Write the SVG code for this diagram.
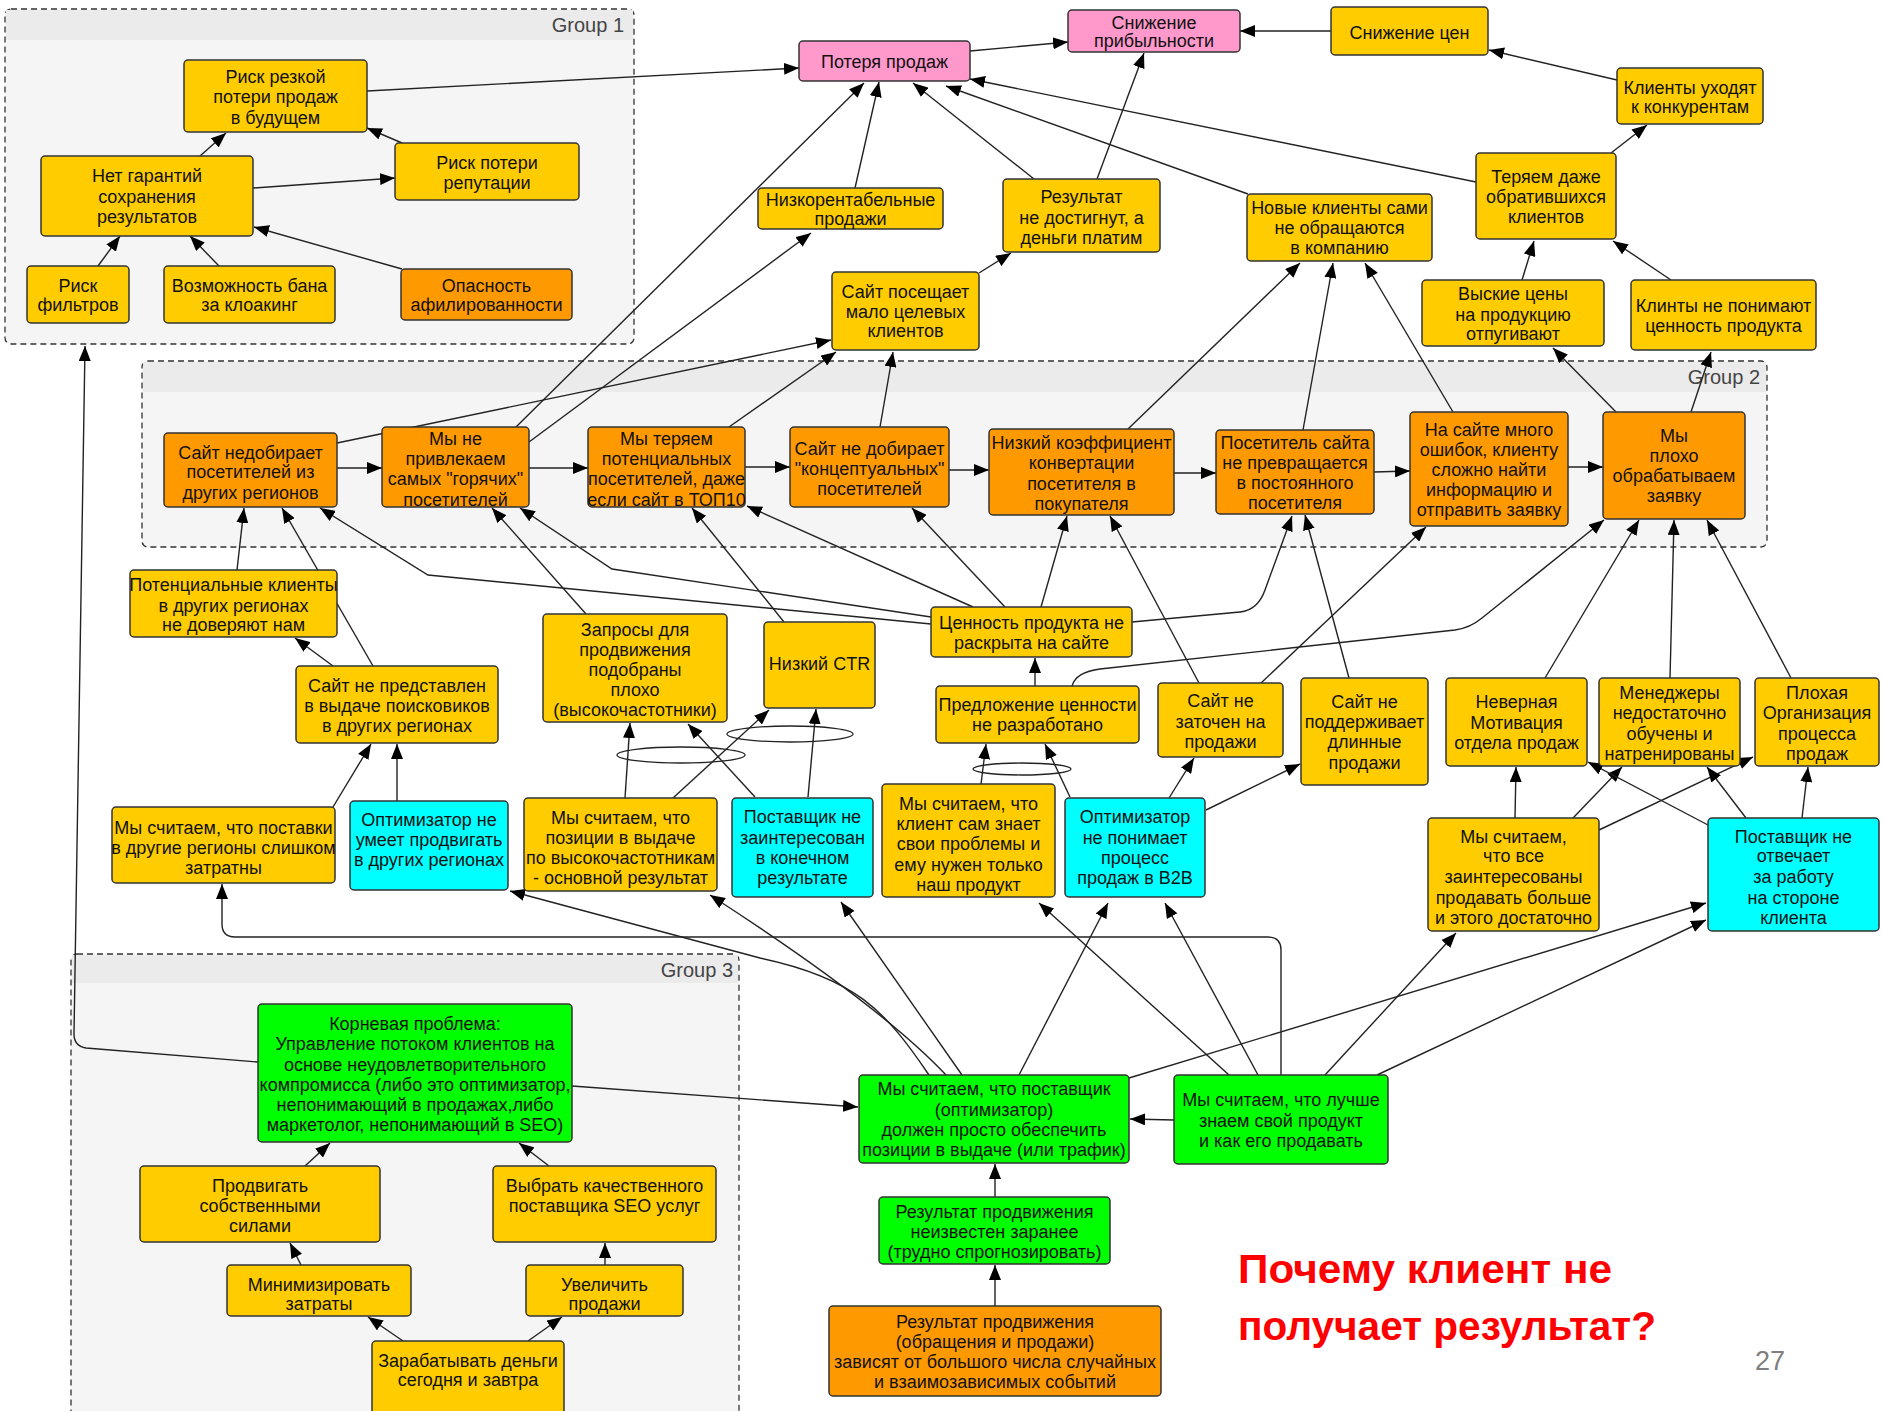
<svg xmlns="http://www.w3.org/2000/svg" width="1883" height="1411" viewBox="0 0 1883 1411">
<style>
.grp{fill:#F5F5F5;stroke:#333;stroke-width:1.3;stroke-dasharray:6,4}
.hdr{fill:#EBEBEB}
.gl{font-family:"Liberation Sans",Arial,sans-serif;font-size:20px;fill:#444;text-anchor:end}
.n rect{stroke:#333;stroke-width:1.5}
.y rect{fill:#FFCC00}.o rect{fill:#FF9900}.p rect{fill:#FF99CC}.c rect{fill:#00FFFF}.g rect{fill:#00FF00}
.n text{font-family:"Liberation Sans",Arial,sans-serif;font-size:18px;fill:#111;text-anchor:middle}
#edges path{stroke:#222;stroke-width:1.4;fill:none;marker-end:url(#a)}
#edges ellipse{stroke:#222;stroke-width:1.3;fill:none}
</style>
<defs>
<marker id="a" markerUnits="userSpaceOnUse" markerWidth="16" markerHeight="12" refX="15" refY="6" orient="auto"><path d="M0,0 L15,6 L0,12 z" fill="#000"/></marker>
</defs>
<rect width="1883" height="1411" fill="#fff"/>
<g id="groups">
<rect class="grp" x="5" y="9" width="629" height="335" rx="6"/>
<rect class="hdr" x="6" y="10" width="627" height="30"/>
<text class="gl" x="624" y="32">Group 1</text>
<rect class="grp" x="142" y="361" width="1625" height="186" rx="6"/>
<rect class="hdr" x="143" y="362" width="1623" height="30"/>
<text class="gl" x="1760" y="384">Group 2</text>
<rect class="grp" x="71" y="954" width="668" height="480" rx="6"/>
<rect class="hdr" x="72" y="955" width="666" height="28"/>
<text class="gl" x="733" y="977">Group 3</text>
</g>
<g id="edges">
<path d="M367,91 L799,68"/>
<path d="M200,156 L226,133"/>
<path d="M402,143 L367,128"/>
<path d="M253,188 L395,178"/>
<path d="M98,266 L120,236"/>
<path d="M219,266 L190,236"/>
<path d="M402,269 L254,227"/>
<path d="M970,51 L1068,42"/>
<path d="M1331,31 L1240,31"/>
<path d="M1617,80 L1489,50"/>
<path d="M1611,153 L1647,125"/>
<path d="M1476,182 L970,79"/>
<path d="M1248,194 L946,86"/>
<path d="M1034,179 L913,83"/>
<path d="M1097,179 L1144,53"/>
<path d="M855,188 L879,82"/>
<path d="M516,427 L864,83"/>
<path d="M979,273 L1011,253"/>
<path d="M337,443 L831,340"/>
<path d="M529,442 L811,233"/>
<path d="M729,427 L836,352"/>
<path d="M880,427 L893,352"/>
<path d="M1128,429 L1300,263"/>
<path d="M1303,430 L1333,263"/>
<path d="M1453,412 L1365,263"/>
<path d="M1616,412 L1553,348"/>
<path d="M1691,412 L1711,352"/>
<path d="M1522,280 L1534,241"/>
<path d="M1671,280 L1613,241"/>
<path d="M337,468 L382,468"/>
<path d="M529,468 L588,468"/>
<path d="M745,467 L790,467"/>
<path d="M949,470 L989,470"/>
<path d="M1174,473 L1216,473"/>
<path d="M1374,472 L1410,471"/>
<path d="M1568,467 L1603,467"/>
<path d="M237,570 L244,508"/>
<path d="M373,666 L282,508"/>
<path d="M333,666 L295,638"/>
<path d="M931,624 L428,575 L320,508"/>
<path d="M931,617 L612,569 L520,508"/>
<path d="M586,614 L492,508"/>
<path d="M784,622 L692,508"/>
<path d="M973,607 L747,506"/>
<path d="M1005,607 L912,508"/>
<path d="M1041,607 L1067,516"/>
<path d="M1132,622 L1240,612 Q1258,610 1265,590 L1292,516"/>
<path d="M1035,686 L1035,658"/>
<path d="M1072,686 Q1076,672 1100,669 L1455,630 Q1470,628 1482,618 L1604,520"/>
<path d="M1199,683 L1110,516"/>
<path d="M1261,683 L1426,527"/>
<path d="M1349,678 L1305,515"/>
<path d="M1545,678 L1639,520"/>
<path d="M1670,678 L1674,520"/>
<path d="M1791,678 L1707,520"/>
<path d="M333,807 L371,744"/>
<path d="M397,801 L397,744"/>
<path d="M625,798 L630,723"/>
<path d="M673,798 L769,710"/>
<path d="M755,797 L688,724"/>
<path d="M808,797 L816,709"/>
<ellipse cx="681" cy="755" rx="64" ry="8"/>
<ellipse cx="790" cy="734" rx="63" ry="8"/>
<ellipse cx="1022" cy="769" rx="49" ry="6"/>
<path d="M981,784 L986,744"/>
<path d="M1070,797 L1045,744"/>
<path d="M1169,798 L1194,758"/>
<path d="M1206,810 L1300,764"/>
<path d="M1515,818 L1516,767"/>
<path d="M1573,818 L1622,767"/>
<path d="M1599,830 L1753,757"/>
<path d="M1708,825 L1588,762"/>
<path d="M1746,818 L1707,767"/>
<path d="M1802,818 L1808,767"/>
<path d="M995,1306 L995,1265"/>
<path d="M995,1197 L995,1164"/>
<path d="M1174,1120 L1130,1119"/>
<path d="M572,1086 L858,1107"/>
<path d="M258,1062 L86,1048 Q74,1046 74,1034 L85,346"/>
<path d="M305,1166 L330,1143"/>
<path d="M549,1166 L519,1143"/>
<path d="M301,1265 L290,1243"/>
<path d="M605,1265 L605,1243"/>
<path d="M403,1341 L368,1317"/>
<path d="M528,1341 L562,1317"/>
<path d="M929,1075 C885,1010 855,978 760,958 L510,891"/>
<path d="M946,1075 Q880,1005 710,895"/>
<path d="M962,1075 L841,902"/>
<path d="M1019,1075 L1108,903"/>
<path d="M1129,1078 L1706,903"/>
<path d="M1229,1075 L1039,903"/>
<path d="M1258,1075 L1165,903"/>
<path d="M1281,1075 V950 Q1281,937 1268,937 H235 Q222,937 222,924 V884"/>
<path d="M1325,1075 L1456,933"/>
<path d="M1377,1075 L1706,920"/>
</g>
<g id="n1" class="n y"><rect x="184" y="60" width="183" height="72" rx="4"/><text><tspan x="275.5" y="83">Риск резкой</tspan><tspan x="275.5" y="103">потери продаж</tspan><tspan x="275.5" y="124">в будущем</tspan></text></g>
<g id="n2" class="n y"><rect x="41" y="156" width="212" height="80" rx="4"/><text><tspan x="147" y="182">Нет гарантий</tspan><tspan x="147" y="203">сохранения</tspan><tspan x="147" y="223">результатов</tspan></text></g>
<g id="n3" class="n y"><rect x="395" y="143" width="184" height="57" rx="4"/><text><tspan x="487" y="169">Риск потери</tspan><tspan x="487" y="189">репутации</tspan></text></g>
<g id="n4" class="n y"><rect x="27" y="266" width="102" height="57" rx="4"/><text><tspan x="78" y="292">Риск</tspan><tspan x="78" y="311">фильтров</tspan></text></g>
<g id="n5" class="n y"><rect x="164" y="266" width="171" height="57" rx="4"/><text><tspan x="249.5" y="292">Возможность бана</tspan><tspan x="249.5" y="311">за клоакинг</tspan></text></g>
<g id="n6" class="n o"><rect x="401" y="269" width="171" height="51" rx="4"/><text><tspan x="486.5" y="292">Опасность</tspan><tspan x="486.5" y="311">афилированности</tspan></text></g>
<g id="n7" class="n p"><rect x="799" y="41" width="171" height="40" rx="4"/><text x="884.5" y="68">Потеря продаж</text></g>
<g id="n8" class="n p"><rect x="1068" y="10" width="172" height="42" rx="4"/><text><tspan x="1154" y="29">Снижение</tspan><tspan x="1154" y="47">прибыльности</tspan></text></g>
<g id="n9" class="n y"><rect x="1331" y="7" width="157" height="48" rx="4"/><text x="1409.5" y="39">Снижение цен</text></g>
<g id="n10" class="n y"><rect x="1617" y="68" width="146" height="56" rx="4"/><text><tspan x="1690" y="94">Клиенты уходят</tspan><tspan x="1690" y="113">к конкурентам</tspan></text></g>
<g id="n11" class="n y"><rect x="1476" y="153" width="140" height="86" rx="4"/><text><tspan x="1546" y="183">Теряем даже</tspan><tspan x="1546" y="203">обратившихся</tspan><tspan x="1546" y="223">клиентов</tspan></text></g>
<g id="n12" class="n y"><rect x="758" y="188" width="185" height="41" rx="4"/><text><tspan x="850.5" y="206">Низкорентабельные</tspan><tspan x="850.5" y="225">продажи</tspan></text></g>
<g id="n13" class="n y"><rect x="1003" y="179" width="157" height="73" rx="4"/><text><tspan x="1081.5" y="203">Результат</tspan><tspan x="1081.5" y="224">не достигнут, а</tspan><tspan x="1081.5" y="244">деньги платим</tspan></text></g>
<g id="n14" class="n y"><rect x="1247" y="194" width="185" height="67" rx="4"/><text><tspan x="1339.5" y="214">Новые клиенты сами</tspan><tspan x="1339.5" y="234">не обращаются</tspan><tspan x="1339.5" y="254">в компанию</tspan></text></g>
<g id="n15" class="n y"><rect x="832" y="272" width="147" height="78" rx="4"/><text><tspan x="905.5" y="298">Сайт посещает</tspan><tspan x="905.5" y="318">мало целевых</tspan><tspan x="905.5" y="337">клиентов</tspan></text></g>
<g id="n16" class="n y"><rect x="1422" y="280" width="182" height="66" rx="4"/><text><tspan x="1513" y="300">Выские цены</tspan><tspan x="1513" y="321">на продукцию</tspan><tspan x="1513" y="340">отпугивают</tspan></text></g>
<g id="n17" class="n y"><rect x="1631" y="280" width="185" height="70" rx="4"/><text><tspan x="1723.5" y="312">Клинты не понимают</tspan><tspan x="1723.5" y="332">ценность продукта</tspan></text></g>
<g id="n18" class="n o"><rect x="164" y="433" width="173" height="74" rx="4"/><text><tspan x="250.5" y="459">Сайт недобирает</tspan><tspan x="250.5" y="478">посетителей из</tspan><tspan x="250.5" y="499">других регионов</tspan></text></g>
<g id="n19" class="n o"><rect x="382" y="427" width="147" height="80" rx="4"/><text><tspan x="455.5" y="445">Мы не</tspan><tspan x="455.5" y="465">привлекаем</tspan><tspan x="455.5" y="485">самых "горячих"</tspan><tspan x="455.5" y="506">посетителей</tspan></text></g>
<g id="n20" class="n o"><rect x="588" y="427" width="157" height="80" rx="4"/><text><tspan x="666.5" y="445">Мы теряем</tspan><tspan x="666.5" y="465">потенциальных</tspan><tspan x="666.5" y="485">посетителей, даже</tspan><tspan x="666.5" y="506">если сайт в ТОП10</tspan></text></g>
<g id="n21" class="n o"><rect x="790" y="427" width="159" height="80" rx="4"/><text><tspan x="869.5" y="455">Сайт не добирает</tspan><tspan x="869.5" y="475">"концептуальных"</tspan><tspan x="869.5" y="495">посетителей</tspan></text></g>
<g id="n22" class="n o"><rect x="989" y="429" width="185" height="86" rx="4"/><text><tspan x="1081.5" y="449">Низкий коэффициент</tspan><tspan x="1081.5" y="469">конвертации</tspan><tspan x="1081.5" y="490">посетителя в</tspan><tspan x="1081.5" y="510">покупателя</tspan></text></g>
<g id="n23" class="n o"><rect x="1216" y="430" width="158" height="84" rx="4"/><text><tspan x="1295" y="449">Посетитель сайта</tspan><tspan x="1295" y="469">не превращается</tspan><tspan x="1295" y="489">в постоянного</tspan><tspan x="1295" y="509">посетителя</tspan></text></g>
<g id="n24" class="n o"><rect x="1410" y="412" width="158" height="114" rx="4"/><text><tspan x="1489" y="436">На сайте много</tspan><tspan x="1489" y="456">ошибок, клиенту</tspan><tspan x="1489" y="476">сложно найти</tspan><tspan x="1489" y="496">информацию и</tspan><tspan x="1489" y="516">отправить заявку</tspan></text></g>
<g id="n25" class="n o"><rect x="1603" y="412" width="142" height="107" rx="4"/><text><tspan x="1674" y="442">Мы</tspan><tspan x="1674" y="462">плохо</tspan><tspan x="1674" y="482">обрабатываем</tspan><tspan x="1674" y="502">заявку</tspan></text></g>
<g id="n26" class="n y"><rect x="130" y="570" width="207" height="67" rx="4"/><text><tspan x="233.5" y="591">Потенциальные клиенты</tspan><tspan x="233.5" y="612">в других регионах</tspan><tspan x="233.5" y="631">не доверяют нам</tspan></text></g>
<g id="n27" class="n y"><rect x="296" y="666" width="202" height="77" rx="4"/><text><tspan x="397" y="692">Сайт не представлен</tspan><tspan x="397" y="712">в выдаче поисковиков</tspan><tspan x="397" y="732">в других регионах</tspan></text></g>
<g id="n28" class="n y"><rect x="543" y="614" width="184" height="108" rx="4"/><text><tspan x="635" y="636">Запросы для</tspan><tspan x="635" y="656">продвижения</tspan><tspan x="635" y="676">подобраны</tspan><tspan x="635" y="696">плохо</tspan><tspan x="635" y="716">(высокочастотники)</tspan></text></g>
<g id="n29" class="n y"><rect x="764" y="622" width="111" height="86" rx="4"/><text x="819.5" y="670">Низкий CTR</text></g>
<g id="n30" class="n y"><rect x="931" y="607" width="201" height="50" rx="4"/><text><tspan x="1031.5" y="629">Ценность продукта не</tspan><tspan x="1031.5" y="649">раскрыта на сайте</tspan></text></g>
<g id="n31" class="n y"><rect x="936" y="686" width="203" height="57" rx="4"/><text><tspan x="1037.5" y="711">Предложение ценности</tspan><tspan x="1037.5" y="731">не разработано</tspan></text></g>
<g id="n32" class="n y"><rect x="1158" y="683" width="125" height="74" rx="4"/><text><tspan x="1220.5" y="707">Сайт не</tspan><tspan x="1220.5" y="728">заточен на</tspan><tspan x="1220.5" y="748">продажи</tspan></text></g>
<g id="n33" class="n y"><rect x="1301" y="678" width="127" height="107" rx="4"/><text><tspan x="1364.5" y="708">Сайт не</tspan><tspan x="1364.5" y="728">поддерживает</tspan><tspan x="1364.5" y="748">длинные</tspan><tspan x="1364.5" y="769">продажи</tspan></text></g>
<g id="n34" class="n y"><rect x="1446" y="678" width="141" height="88" rx="4"/><text><tspan x="1516.5" y="708">Неверная</tspan><tspan x="1516.5" y="729">Мотивация</tspan><tspan x="1516.5" y="749">отдела продаж</tspan></text></g>
<g id="n35" class="n y"><rect x="1599" y="678" width="141" height="88" rx="4"/><text><tspan x="1669.5" y="699">Менеджеры</tspan><tspan x="1669.5" y="719">недостаточно</tspan><tspan x="1669.5" y="740">обучены и</tspan><tspan x="1669.5" y="760">натренированы</tspan></text></g>
<g id="n36" class="n y"><rect x="1755" y="678" width="124" height="88" rx="4"/><text><tspan x="1817" y="699">Плохая</tspan><tspan x="1817" y="719">Организация</tspan><tspan x="1817" y="740">процесса</tspan><tspan x="1817" y="760">продаж</tspan></text></g>
<g id="n37" class="n y"><rect x="112" y="807" width="223" height="76" rx="4"/><text><tspan x="223.5" y="834">Мы считаем, что поставки</tspan><tspan x="223.5" y="854">в другие регионы слишком</tspan><tspan x="223.5" y="874">затратны</tspan></text></g>
<g id="n38" class="n c"><rect x="350" y="801" width="158" height="89" rx="4"/><text><tspan x="429" y="826">Оптимизатор не</tspan><tspan x="429" y="846">умеет продвигать</tspan><tspan x="429" y="866">в других регионах</tspan></text></g>
<g id="n39" class="n y"><rect x="524" y="798" width="193" height="93" rx="4"/><text><tspan x="620.5" y="824">Мы считаем, что</tspan><tspan x="620.5" y="844">позиции в выдаче</tspan><tspan x="620.5" y="864">по высокочастотникам</tspan><tspan x="620.5" y="884">- основной результат</tspan></text></g>
<g id="n40" class="n c"><rect x="732" y="798" width="141" height="99" rx="4"/><text><tspan x="802.5" y="823">Поставщик не</tspan><tspan x="802.5" y="844">заинтересован</tspan><tspan x="802.5" y="864">в конечном</tspan><tspan x="802.5" y="884">результате</tspan></text></g>
<g id="n41" class="n y"><rect x="882" y="784" width="173" height="113" rx="4"/><text><tspan x="968.5" y="810">Мы считаем, что</tspan><tspan x="968.5" y="830">клиент сам знает</tspan><tspan x="968.5" y="850">свои проблемы и</tspan><tspan x="968.5" y="871">ему нужен только</tspan><tspan x="968.5" y="891">наш продукт</tspan></text></g>
<g id="n42" class="n c"><rect x="1065" y="798" width="140" height="99" rx="4"/><text><tspan x="1135" y="823">Оптимизатор</tspan><tspan x="1135" y="844">не понимает</tspan><tspan x="1135" y="864">процесс</tspan><tspan x="1135" y="884">продаж в B2B</tspan></text></g>
<g id="n43" class="n y"><rect x="1428" y="818" width="171" height="113" rx="4"/><text><tspan x="1513.5" y="843">Мы считаем,</tspan><tspan x="1513.5" y="862">что все</tspan><tspan x="1513.5" y="883">заинтересованы</tspan><tspan x="1513.5" y="904">продавать больше</tspan><tspan x="1513.5" y="924">и этого достаточно</tspan></text></g>
<g id="n44" class="n c"><rect x="1708" y="818" width="171" height="113" rx="4"/><text><tspan x="1793.5" y="843">Поставщик не</tspan><tspan x="1793.5" y="862">отвечает</tspan><tspan x="1793.5" y="883">за работу</tspan><tspan x="1793.5" y="904">на стороне</tspan><tspan x="1793.5" y="924">клиента</tspan></text></g>
<g id="n45" class="n g"><rect x="258" y="1004" width="314" height="138" rx="4"/><text><tspan x="415" y="1030">Корневая проблема:</tspan><tspan x="415" y="1050">Управление потоком клиентов на</tspan><tspan x="415" y="1071">основе неудовлетворительного</tspan><tspan x="415" y="1091">компромисса (либо это оптимизатор,</tspan><tspan x="415" y="1111">непонимающий в продажах,либо</tspan><tspan x="415" y="1131">маркетолог, непонимающий в SEO)</tspan></text></g>
<g id="n46" class="n y"><rect x="140" y="1166" width="240" height="76" rx="4"/><text><tspan x="260" y="1192">Продвигать</tspan><tspan x="260" y="1212">собственными</tspan><tspan x="260" y="1232">силами</tspan></text></g>
<g id="n47" class="n y"><rect x="493" y="1166" width="223" height="76" rx="4"/><text><tspan x="604.5" y="1192">Выбрать качественного</tspan><tspan x="604.5" y="1212">поставщика SEO услуг</tspan></text></g>
<g id="n48" class="n y"><rect x="227" y="1265" width="184" height="51" rx="4"/><text><tspan x="319" y="1291">Минимизировать</tspan><tspan x="319" y="1310">затраты</tspan></text></g>
<g id="n49" class="n y"><rect x="526" y="1265" width="157" height="51" rx="4"/><text><tspan x="604.5" y="1291">Увеличить</tspan><tspan x="604.5" y="1310">продажи</tspan></text></g>
<g id="n50" class="n y"><rect x="372" y="1341" width="192" height="80" rx="4"/><text><tspan x="468" y="1367">Зарабатывать деньги</tspan><tspan x="468" y="1386">сегодня и завтра</tspan></text></g>
<g id="n51" class="n g"><rect x="859" y="1075" width="270" height="88" rx="4"/><text><tspan x="994" y="1095">Мы считаем, что поставщик</tspan><tspan x="994" y="1116">(оптимизатор)</tspan><tspan x="994" y="1136">должен просто обеспечить</tspan><tspan x="994" y="1156">позиции в выдаче (или трафик)</tspan></text></g>
<g id="n52" class="n g"><rect x="1174" y="1075" width="214" height="89" rx="4"/><text><tspan x="1281" y="1106">Мы считаем, что лучше</tspan><tspan x="1281" y="1127">знаем свой продукт</tspan><tspan x="1281" y="1147">и как его продавать</tspan></text></g>
<g id="n53" class="n g"><rect x="879" y="1197" width="231" height="67" rx="4"/><text><tspan x="994.5" y="1218">Результат продвижения</tspan><tspan x="994.5" y="1238">неизвестен заранее</tspan><tspan x="994.5" y="1258">(трудно спрогнозировать)</tspan></text></g>
<g id="n54" class="n o"><rect x="829" y="1306" width="332" height="90" rx="4"/><text><tspan x="995" y="1328">Результат продвижения</tspan><tspan x="995" y="1348">(обращения и продажи)</tspan><tspan x="995" y="1368">зависят от большого числа случайных</tspan><tspan x="995" y="1388">и взаимозависимых событий</tspan></text></g>
<g id="title" font-family="'Liberation Sans',Arial,sans-serif" font-weight="bold" fill="#FF0000" font-size="41">
<text x="1238" y="1283" textLength="374" lengthAdjust="spacingAndGlyphs">Почему клиент не</text>
<text x="1238" y="1340" textLength="418" lengthAdjust="spacingAndGlyphs">получает результат?</text>
</g>
<text x="1755" y="1370" font-family="'Liberation Sans',Arial,sans-serif" font-size="27" fill="#7F7F7F">27</text>
</svg>
